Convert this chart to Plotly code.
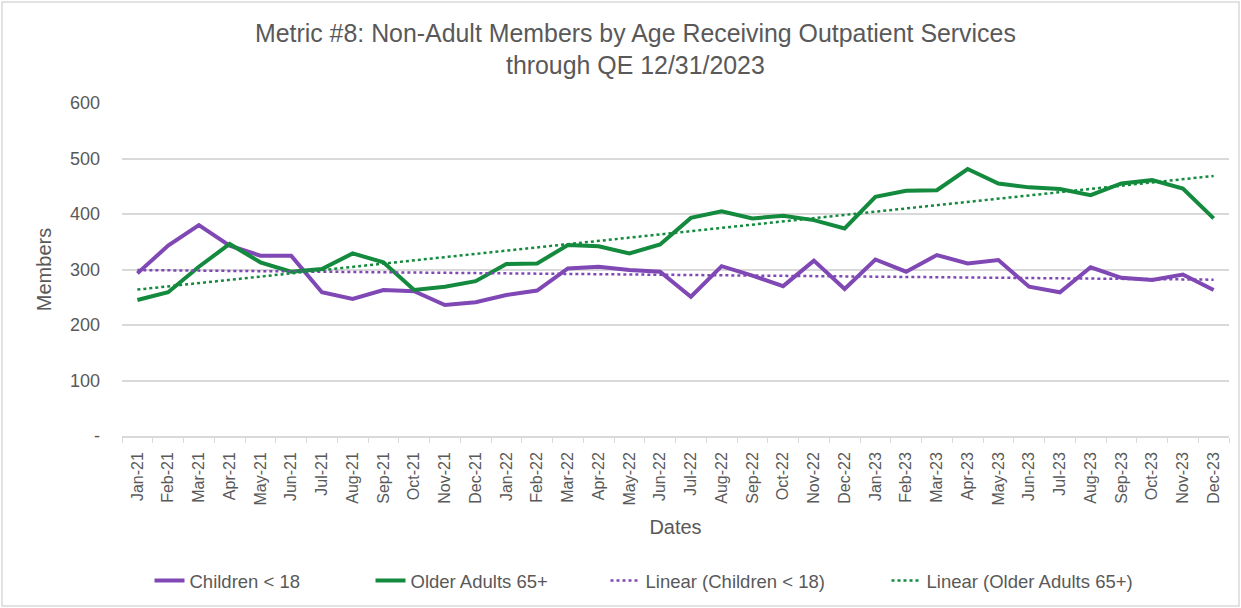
import numpy as np
import plotly.graph_objects as go

months = ["Jan-21","Feb-21","Mar-21","Apr-21","May-21","Jun-21","Jul-21","Aug-21","Sep-21","Oct-21","Nov-21","Dec-21",
          "Jan-22","Feb-22","Mar-22","Apr-22","May-22","Jun-22","Jul-22","Aug-22","Sep-22","Oct-22","Nov-22","Dec-22",
          "Jan-23","Feb-23","Mar-23","Apr-23","May-23","Jun-23","Jul-23","Aug-23","Sep-23","Oct-23","Nov-23","Dec-23"]

children = [293, 343, 380, 343, 325, 325, 259, 247, 263, 261, 236, 241,
            254, 262, 302, 305, 299, 296, 251, 306, 289, 270, 316, 265,
            318, 296, 326, 311, 317, 269, 259, 304, 285, 281, 291, 263]

older = [245, 259, 305, 346, 313, 296, 301, 329, 313, 263, 269, 279,
         310, 311, 344, 342, 329, 345, 393, 405, 392, 397, 389, 374,
         431, 442, 443, 481, 455, 448, 445, 434, 455, 461, 446, 392]

y_ticks = [0, 100, 200, 300, 400, 500, 600]
y_tick_labels = ["-", "100", "200", "300", "400", "500", "600"]

PURPLE = "#8048B4"
GREEN = "#138A3D"
GRID = "#D9D9D9"
TXT = "#595959"

idx = np.arange(len(months))
c_fit = np.polyval(np.polyfit(idx, children, 1), idx)
o_fit = np.polyval(np.polyfit(idx, older, 1), idx)

fig = go.Figure()
fig.add_trace(go.Scatter(x=months, y=children, mode="lines", name="Children < 18",
                         line=dict(color=PURPLE, width=4), legend="legend"))
fig.add_trace(go.Scatter(x=months, y=older, mode="lines", name="Older Adults 65+",
                         line=dict(color=GREEN, width=4), legend="legend2"))
fig.add_trace(go.Scatter(x=months, y=c_fit, mode="lines", name="Linear (Children < 18)",
                         line=dict(color=PURPLE, width=2.5, dash="dot"), legend="legend3"))
fig.add_trace(go.Scatter(x=months, y=o_fit, mode="lines", name="Linear (Older Adults 65+)",
                         line=dict(color=GREEN, width=2.5, dash="dot"), legend="legend4"))

W, H = 1241, 608
L, R, T, B = 122, 12, 103, 172
pw, ph = W - L - R, H - T - B

def px_x(p):
    return (p - L) / pw

def px_y(p):
    return (H - B - p) / ph

def leg(text_start):
    return dict(orientation="h", x=px_x(text_start - 40.5), xanchor="left",
                y=px_y(581), yanchor="middle", bgcolor="rgba(0,0,0,0)",
                font=dict(size=18.5, color=TXT))

fig.update_layout(
    width=W, height=H,
    margin=dict(l=L, r=R, t=T, b=B, autoexpand=False),
    paper_bgcolor="white", plot_bgcolor="white",
    font=dict(family="Liberation Sans, Arial, sans-serif", color=TXT, size=16),
    title=dict(text="Metric #8: Non-Adult Members by Age Receiving Outpatient Services<br>through QE 12/31/2023",
               x=0.512, xanchor="center", y=1 - 41.5 / H, yanchor="middle",
               font=dict(size=24.9, color=TXT)),
    xaxis=dict(type="category", tickangle=-90, showgrid=False, automargin=False,
               showline=True, linecolor=GRID, linewidth=1.5,
               ticks="outside", tickson="boundaries", ticklen=5, tickcolor=GRID,
               ticklabelstandoff=8,
               tickfont=dict(size=16, color=TXT),
               title=dict(text="Dates", font=dict(size=20, color=TXT), standoff=15),
               range=[-0.5, len(months) - 0.5]),
    yaxis=dict(range=[0, 600], tickvals=y_ticks, ticktext=y_tick_labels, automargin=False,
               showgrid=True, gridcolor=GRID, gridwidth=1.5, zeroline=False,
               showline=False, ticks="", ticklabelstandoff=21,
               tickfont=dict(size=18, color=TXT),
               title=dict(text="Members", font=dict(size=20, color=TXT), standoff=12)),
    legend=leg(190),
    legend2=leg(411),
    legend3=leg(646),
    legend4=leg(927),
    showlegend=True,
)

fig.add_shape(type="rect", xref="paper", yref="paper",
              x0=px_x(2), x1=px_x(1239), y0=px_y(606), y1=px_y(2),
              line=dict(color=GRID, width=1.5), fillcolor="rgba(0,0,0,0)", layer="below")

fig.write_html("out.html", config={"displayModeBar": False},
               post_script="document.body.style.margin='0px';document.body.style.padding='0px';")
